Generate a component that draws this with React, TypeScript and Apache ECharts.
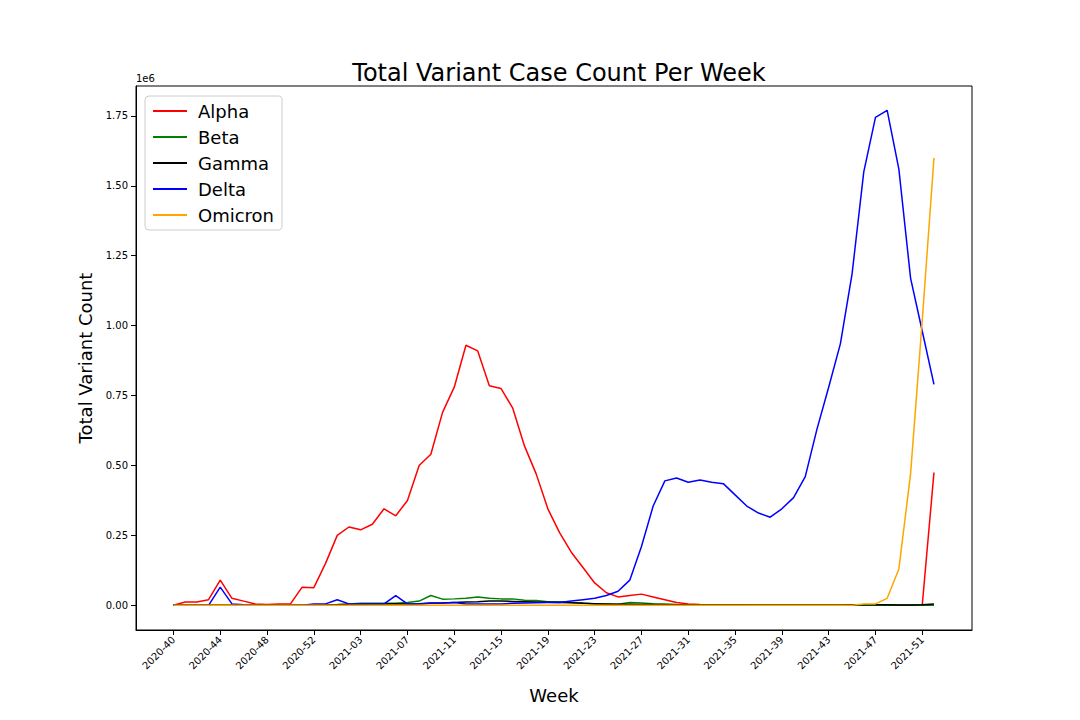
import { useEffect, useRef } from 'react';
import * as echarts from 'echarts';

const weeks: string[] = [];
for (let w = 40; w <= 53; w++) weeks.push(`2020-${w}`);
for (let w = 1; w <= 52; w++) weeks.push(`2021-${String(w).padStart(2, '0')}`);

const alpha = [0, 0.012, 0.012, 0.02, 0.09, 0.025, 0.015, 0.005, 0.003, 0.005, 0.005, 0.065, 0.063, 0.15, 0.25, 0.28, 0.27, 0.29, 0.345, 0.32, 0.375, 0.5, 0.54, 0.69, 0.78, 0.93, 0.91, 0.785, 0.775, 0.705, 0.57, 0.47, 0.345, 0.26, 0.19, 0.135, 0.08, 0.045, 0.03, 0.035, 0.04, 0.03, 0.02, 0.01, 0.005, 0.003, 0.002, 0.001, 0.001, 0.001, 0, 0, 0, 0, 0, 0, 0, 0, 0, 0, 0, 0, 0, 0, 0.002, 0.475];
const beta = [0, 0, 0, 0, 0, 0, 0, 0, 0, 0, 0, 0, 0, 0.002, 0.003, 0.005, 0.007, 0.007, 0.007, 0.007, 0.01, 0.015, 0.035, 0.022, 0.023, 0.025, 0.03, 0.025, 0.023, 0.023, 0.018, 0.017, 0.013, 0.013, 0.01, 0.008, 0.005, 0.004, 0.004, 0.01, 0.008, 0.006, 0.005, 0.003, 0.002, 0.001, 0.001, 0, 0, 0, 0, 0, 0, 0, 0, 0, 0, 0, 0, 0, 0, 0, 0, 0, 0, 0];
const gamma = [0, 0, 0, 0, 0, 0, 0, 0, 0, 0, 0, 0, 0, 0, 0.002, 0.003, 0.004, 0.005, 0.005, 0.006, 0.005, 0.006, 0.008, 0.008, 0.01, 0.012, 0.013, 0.015, 0.015, 0.014, 0.013, 0.012, 0.011, 0.01, 0.009, 0.007, 0.006, 0.005, 0.004, 0.004, 0.003, 0.003, 0.002, 0.002, 0.002, 0.001, 0.001, 0.001, 0.001, 0.001, 0.001, 0.001, 0.001, 0.001, 0.001, 0.001, 0.001, 0.001, 0.002, 0.002, 0.002, 0.002, 0.001, 0.001, 0.002, 0.005];
const delta = [0, 0, 0, 0, 0.065, 0.005, 0.002, 0, 0, 0, 0, 0, 0.005, 0.005, 0.02, 0.005, 0.005, 0.005, 0.005, 0.035, 0.005, 0.005, 0.007, 0.008, 0.01, 0.005, 0.005, 0.005, 0.005, 0.007, 0.008, 0.009, 0.01, 0.01, 0.015, 0.02, 0.025, 0.035, 0.05, 0.09, 0.21, 0.355, 0.445, 0.455, 0.44, 0.448, 0.44, 0.435, 0.395, 0.355, 0.33, 0.315, 0.345, 0.385, 0.46, 0.63, 0.78, 0.935, 1.185, 1.55, 1.745, 1.77, 1.56, 1.17, 0.98, 0.79];
const omicron = [0, 0, 0, 0, 0, 0, 0, 0, 0, 0, 0, 0, 0, 0, 0, 0, 0, 0, 0, 0, 0, 0, 0, 0, 0, 0, 0, 0, 0, 0, 0, 0, 0, 0, 0, 0, 0, 0, 0, 0, 0, 0, 0, 0, 0, 0, 0, 0, 0, 0, 0, 0, 0, 0, 0, 0, 0, 0, 0, 0.005, 0.005, 0.025, 0.13, 0.47, 1.02, 1.6];

const seriesDefs = [
  { name: 'Alpha', data: alpha, color: '#ff0000' },
  { name: 'Beta', data: beta, color: '#008000' },
  { name: 'Gamma', data: gamma, color: '#000000' },
  { name: 'Delta', data: delta, color: '#0000ff' },
  { name: 'Omicron', data: omicron, color: '#ffa500' },
];

const xTicks = weeks.map((_, i) => i).filter((i) => i % 4 === 0);
const yTicks = [0, 0.25e6, 0.5e6, 0.75e6, 1e6, 1.25e6, 1.5e6, 1.75e6];

export default function App() {
  const ref = useRef<HTMLDivElement>(null);

  useEffect(() => {
    if (!ref.current) return;
    const chart = echarts.init(ref.current, undefined, { renderer: 'svg' });
    const font = 'DejaVu Sans';
    chart.setOption({
      animation: false,
      backgroundColor: '#fff',
      textStyle: { fontFamily: font },
      title: {
        text: 'Total Variant Case Count Per Week',
        left: 554, top: 56, textAlign: 'center',
        textStyle: { fontSize: 24, fontWeight: 'normal', color: '#000', fontFamily: font },
      },
      graphic: [
        { type: 'text', left: 136, top: 73, style: { text: '1e6', fontSize: 10, fill: '#000', fontFamily: font } },
      ],
      legend: {
        orient: 'vertical', left: 145, top: 96, itemWidth: 34, itemHeight: 2, itemGap: 8,
        backgroundColor: '#fff', borderColor: '#ccc', borderWidth: 1, borderRadius: 4,
        padding: [6, 8, 6, 8],
        icon: 'rect',
        textStyle: { fontSize: 18, color: '#000', fontFamily: font, padding: [0, 0, 0, 6] },
        data: seriesDefs.map((s) => s.name),
      },
      grid: { left: 136, right: 108, top: 86, bottom: 90, show: true, borderColor: '#000', borderWidth: 1, backgroundColor: 'transparent' },
      xAxis: {
        type: 'value', min: -3.2, max: 68.25,
        name: 'Week', nameLocation: 'middle', nameGap: 56,
        nameTextStyle: { fontSize: 18, color: '#000', fontFamily: font },
        axisLine: { show: true, onZero: false, lineStyle: { color: '#000' } },
        axisTick: { show: true, length: 5, customValues: xTicks, lineStyle: { color: '#000' } },
        axisLabel: { customValues: xTicks, rotate: 45, fontSize: 10, color: '#000', margin: 8, formatter: (v: number) => weeks[Math.round(v)] ?? '' },
        splitLine: { show: false },
      },
      yAxis: {
        type: 'value', min: -0.0883e6, max: 1.857e6,
        name: 'Total Variant Count', nameLocation: 'middle', nameGap: 42,
        nameTextStyle: { fontSize: 18, color: '#000', fontFamily: font },
        axisLine: { show: true, onZero: false, lineStyle: { color: '#000' } },
        axisTick: { show: true, length: 5, customValues: yTicks, lineStyle: { color: '#000' } },
        axisLabel: { customValues: yTicks, fontSize: 10, color: '#000', formatter: (v: number) => (v / 1e6).toFixed(2) },
        splitLine: { show: false },
      },
      series: seriesDefs.map((s) => ({
        name: s.name, type: 'line', symbol: 'none', color: s.color,
        lineStyle: { width: 1.5, color: s.color },
        data: s.data.map((v, i) => [i, v * 1e6]),
      })),
    });
    return () => chart.dispose();
  }, []);

  return <div ref={ref} style={{ width: 1080, height: 720, margin: -8 }} />;
}
